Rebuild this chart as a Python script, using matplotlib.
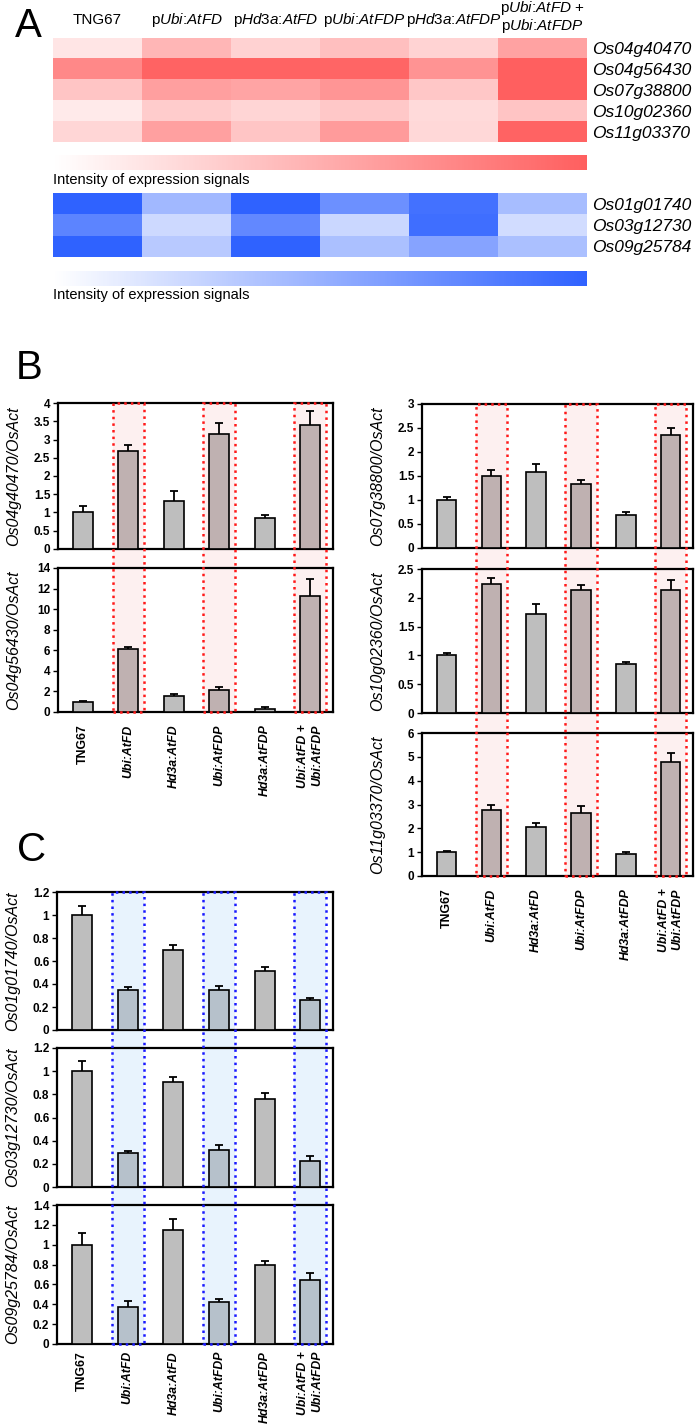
import numpy as np
import matplotlib
matplotlib.use('Agg')
import matplotlib.pyplot as plt
from matplotlib.colors import LinearSegmentedColormap, Normalize
from matplotlib.cm import ScalarMappable
from matplotlib.patches import Rectangle
from matplotlib.transforms import blended_transform_factory

plt.rcParams['font.family'] = ['Liberation Sans', 'DejaVu Sans']
plt.rcParams['mathtext.fontset'] = 'custom'
plt.rcParams['mathtext.rm'] = 'Liberation Sans'
plt.rcParams['mathtext.it'] = 'Liberation Sans:italic'

# ============================================================
# Data
# ============================================================
heat_cols = ['TNG67',
             r'p$\mathit{Ubi}$:$\mathit{AtFD}$',
             r'p$\mathit{Hd3a}$:$\mathit{AtFD}$',
             r'p$\mathit{Ubi}$:$\mathit{AtFDP}$',
             r'p$\mathit{Hd3a}$:$\mathit{AtFDP}$',
             'p$\\mathit{Ubi}$:$\\mathit{AtFD}$ +\np$\\mathit{Ubi}$:$\\mathit{AtFDP}$']

genes_up = ['Os04g40470', 'Os04g56430', 'Os07g38800', 'Os10g02360', 'Os11g03370']
heat_up = [
    [0.16, 0.45, 0.28, 0.40, 0.27, 0.58],
    [0.74, 0.97, 0.97, 0.96, 0.67, 1.00],
    [0.36, 0.60, 0.57, 0.66, 0.35, 1.00],
    [0.13, 0.32, 0.26, 0.34, 0.23, 0.37],
    [0.25, 0.59, 0.36, 0.62, 0.24, 0.97],
]

genes_down = ['Os01g01740', 'Os03g12730', 'Os09g25784']
heat_down = [
    [1.00, 0.45, 1.00, 0.70, 0.90, 0.42],
    [0.78, 0.24, 0.75, 0.25, 0.92, 0.22],
    [1.00, 0.34, 1.00, 0.40, 0.58, 0.40],
]

lines = ['TNG67', 'Ubi:AtFD', 'Hd3a:AtFD', 'Ubi:AtFDP', 'Hd3a:AtFDP',
         'Ubi:AtFD +\nUbi:AtFDP']
highlight = [1, 3, 5]

os04g40470 = [1.00, 2.68, 1.32, 3.14, 0.85, 3.40]
os04g40470_err = [0.17, 0.17, 0.27, 0.32, 0.09, 0.39]
os04g56430 = [1.00, 6.13, 1.51, 2.16, 0.32, 11.27]
os04g56430_err = [0.10, 0.20, 0.22, 0.30, 0.12, 1.70]
os07g38800 = [1.00, 1.51, 1.58, 1.33, 0.69, 2.35]
os07g38800_err = [0.07, 0.12, 0.18, 0.09, 0.07, 0.15]
os10g02360 = [1.00, 2.24, 1.72, 2.13, 0.85, 2.14]
os10g02360_err = [0.05, 0.10, 0.17, 0.10, 0.04, 0.17]
os11g03370 = [1.00, 2.77, 2.04, 2.65, 0.94, 4.78]
os11g03370_err = [0.06, 0.20, 0.20, 0.28, 0.06, 0.40]

os01g01740 = [1.00, 0.35, 0.70, 0.345, 0.51, 0.26]
os01g01740_err = [0.075, 0.02, 0.04, 0.035, 0.04, 0.02]
os03g12730 = [1.00, 0.296, 0.905, 0.32, 0.76, 0.226]
os03g12730_err = [0.085, 0.015, 0.045, 0.045, 0.05, 0.04]
os09g25784 = [1.00, 0.377, 1.15, 0.42, 0.80, 0.645]
os09g25784_err = [0.117, 0.053, 0.11, 0.037, 0.037, 0.067]

# ============================================================
# Layout helpers (pixel coordinates, origin top-left)
# ============================================================
W, H = 697, 1427
fig = plt.figure(figsize=(W / 100, H / 100), dpi=100)


def px_axes(l, t, w, h):
    return fig.add_axes([l / W, 1 - (t + h) / H, w / W, h / H])


def fy(y):
    return 1 - y / H


# ============================================================
# Panel A: heatmaps
# ============================================================
red_cmap = LinearSegmentedColormap.from_list('up', ['#FFFFFF', '#FF5F5F'])
blue_cmap = LinearSegmentedColormap.from_list('down', ['#FFFFFF', '#2F62FF'])

ax = px_axes(53, 38, 534, 104)
ax.imshow(np.array(heat_up), cmap=red_cmap, vmin=0, vmax=1, aspect='auto')
ax.set_xticks([])
xt = ax.get_xaxis_transform()
for i, lab in enumerate(heat_cols):
    # header rows sit above the heatmap
    yy = 1 + (21 if '\n' in lab else 18) / 104
    ax.text(i, yy, lab, transform=xt, ha='center', va='center',
            fontsize=11, linespacing=0.95)
ax.yaxis.tick_right()
ax.set_yticks(range(len(genes_up)))
ax.set_yticklabels(genes_up, fontsize=12.5, fontstyle='italic')
ax.tick_params(length=0, pad=4)
for s in ax.spines.values():
    s.set_visible(False)

ax = px_axes(53, 193, 534, 64)
ax.imshow(np.array(heat_down), cmap=blue_cmap, vmin=0, vmax=1, aspect='auto')
ax.set_xticks([])
ax.yaxis.tick_right()
ax.set_yticks(range(len(genes_down)))
ax.set_yticklabels(genes_down, fontsize=12.5, fontstyle='italic')
ax.tick_params(length=0, pad=4)
for s in ax.spines.values():
    s.set_visible(False)

for cmap, top, txt_y in [(red_cmap, 155, 180), (blue_cmap, 271, 295)]:
    cax = px_axes(53, top, 534, 15)
    cb = fig.colorbar(ScalarMappable(norm=Normalize(0, 1), cmap=cmap),
                      cax=cax, orientation='horizontal')
    cb.outline.set_visible(False)
    cax.set_xticks([])
    fig.text(53 / W, fy(txt_y), 'Intensity of expression signals',
             fontsize=10.5, va='center', ha='left')

# ============================================================
# Panels B and C: bar charts
# ============================================================
GRAY = '#BEBEBE'


def bar_panel(rects, series, hl_bar, hl_fill, hl_edge, label_pad):
    axes = []
    x = np.arange(len(lines))
    for (l, t, w, h), (label, vals, errs, yticks) in zip(rects, series):
        ax = px_axes(l, t, w, h)
        ax.patch.set_visible(False)
        colors = [hl_bar if i in highlight else GRAY for i in range(len(x))]
        ax.errorbar(x, vals, yerr=errs, fmt='none', ecolor='black',
                    elinewidth=1.3, capsize=3.2, capthick=1.3, zorder=2)
        ax.bar(x, vals, width=0.44, color=colors, edgecolor='black',
               linewidth=1.2, zorder=3)
        ax.set_xlim(-0.55, 5.5)
        ax.set_ylim(yticks[0], yticks[-1])
        ax.set_yticks(yticks)
        ax.set_yticklabels(['{:g}'.format(v) for v in yticks],
                           fontsize=8.5, fontweight='bold')
        ax.tick_params(axis='y', direction='out', length=3.5, width=1, pad=2)
        ax.tick_params(axis='x', length=0)
        ax.set_xticks(x)
        ax.set_xticklabels([])
        ax.set_ylabel(label, fontsize=11.5, fontstyle='italic')
        ax.yaxis.set_label_coords(-37 / w, 0.5)
        for s in ax.spines.values():
            s.set_linewidth(1.6)
        axes.append(ax)

    # shared highlight columns spanning the stacked axes
    top = fy(rects[0][1])
    bottom = fy(rects[-1][1] + rects[-1][3])
    tr = blended_transform_factory(axes[0].transData, fig.transFigure)
    for i in highlight:
        fig.add_artist(Rectangle((i - 0.35, bottom), 0.7, top - bottom,
                                 transform=tr, facecolor=hl_fill,
                                 edgecolor='none', zorder=-1))
        fig.add_artist(Rectangle((i - 0.35, bottom), 0.7, top - bottom,
                                 transform=tr, fill=False, edgecolor=hl_edge,
                                 linestyle=':', linewidth=1.8, zorder=5))

    last = axes[-1]
    last.set_xticklabels(lines, rotation=90, fontsize=8.8, fontweight='bold',
                         va='top', ha='center', multialignment='right')
    last.tick_params(axis='x', pad=label_pad)
    for lab in last.get_xticklabels():
        if lab.get_text() != 'TNG67':
            lab.set_fontstyle('italic')
    return axes


bar_panel([(58, 403, 275, 146), (58, 568, 275, 144)],
          [('Os04g40470/OsAct', os04g40470, os04g40470_err,
            [0, 0.5, 1, 1.5, 2, 2.5, 3, 3.5, 4]),
           ('Os04g56430/OsAct', os04g56430, os04g56430_err,
            [0, 2, 4, 6, 8, 10, 12, 14])],
          '#BFB1B1', '#FDF0F0', '#FF1A1A', 9)

bar_panel([(422, 404, 271, 144), (422, 569, 271, 144), (422, 733, 271, 143)],
          [('Os07g38800/OsAct', os07g38800, os07g38800_err,
            [0, 0.5, 1, 1.5, 2, 2.5, 3]),
           ('Os10g02360/OsAct', os10g02360, os10g02360_err,
            [0, 0.5, 1, 1.5, 2, 2.5]),
           ('Os11g03370/OsAct', os11g03370, os11g03370_err,
            [0, 1, 2, 3, 4, 5, 6])],
          '#BFB1B1', '#FDF0F0', '#FF1A1A', 9)

bar_panel([(57, 892, 276, 138), (57, 1048, 276, 139), (57, 1205, 276, 139)],
          [('Os01g01740/OsAct', os01g01740, os01g01740_err,
            [0, 0.2, 0.4, 0.6, 0.8, 1, 1.2]),
           ('Os03g12730/OsAct', os03g12730, os03g12730_err,
            [0, 0.2, 0.4, 0.6, 0.8, 1, 1.2]),
           ('Os09g25784/OsAct', os09g25784, os09g25784_err,
            [0, 0.2, 0.4, 0.6, 0.8, 1, 1.2, 1.4])],
          '#B6C1CB', '#E8F3FD', '#1A1AFF', 5)

# panel letters
for letter, x, y in [('A', 15, 26), ('B', 16, 368), ('C', 17, 850)]:
    fig.text(x / W, fy(y), letter, fontsize=29, va='center', ha='left')

fig.savefig('out.png', dpi=100)
